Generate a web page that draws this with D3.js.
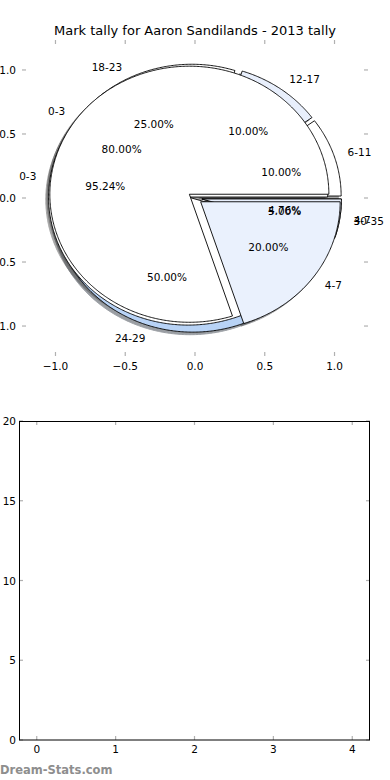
<!DOCTYPE html>
<html><head><meta charset="utf-8">
<script src="https://cdn.jsdelivr.net/npm/d3@7"></script>
<style>body{margin:0;background:#fff}svg{display:block;font-family:"DejaVu Sans",sans-serif}</style>
</head><body><svg id="c" width="390" height="780"></svg>
<script>
const chartTitle = "Mark tally for Aaron Sandilands - 2013 tally";
// Pie A (drawn first, bottom)
const pieALabels = ["6-11", "12-17", "18-23", "24-29", "30-35"];
const pieAValues = [2, 2, 5, 10, 1];
// Pie C (middle)
const pieCLabels = ["0-3", "4-7"];
const pieCValues = [20, 1];
// Pie B (top)
const pieBLabels = ["0-3", "4-7"];
const pieBValues = [16, 4];
const pieTicks = [-1.0, -0.5, 0.0, 0.5, 1.0];
const barXTicks = [0, 1, 2, 3, 4];
const barYTicks = [0, 5, 10, 15, 20];
const watermark = "Dream-Stats.com";

const pieAColors = ["#ffffff", "#e8effc", "#ffffff", "#b8d3f6", "#ffffff"];
const pieCColors = ["#ffffff", "#e8effc"];
const pieBColors = ["#ffffff", "#eaf1fd"];

const svg = d3.select("#c");
const FS = 10.5;

// ---------- top pie axes ----------
const x = d3.scaleLinear().domain([-1.24, 1.24]).range([22, 368]);
const y = d3.scaleLinear().domain([-1.234, 1.234]).range([356, 40]);

svg.append("text").attr("x", 195).attr("y", 30).attr("text-anchor", "middle")
  .attr("dominant-baseline", "central").attr("font-size", 13).text(chartTitle);

const line = d3.line().x(d => x(d[0])).y(d => y(d[1])).curve(d3.curveLinearClosed);
const pieGen = d3.pie().sort(null).startAngle(0).endAngle(2 * Math.PI);
const EXPLODE = 0.05;

function wedges(values, colors, labels) {
  const total = d3.sum(values);
  return pieGen(values).map((a, i) => {
    const t1 = a.startAngle, t2 = a.endAngle, m = (t1 + t2) / 2;
    const cx = EXPLODE * Math.cos(m), cy = EXPLODE * Math.sin(m);
    const n = Math.max(2, Math.ceil((t2 - t1) / 0.01));
    const pts = [[cx, cy]];
    for (let k = 0; k <= n; k++) {
      const t = t1 + (t2 - t1) * k / n;
      pts.push([cx + Math.cos(t), cy + Math.sin(t)]);
    }
    return {pts, cx, cy, m, color: colors[i], label: labels[i],
      pct: (values[i] / total * 100).toFixed(2) + "%"};
  });
}
const pies = [
  wedges(pieAValues, pieAColors, pieALabels),
  wedges(pieCValues, pieCColors, pieCLabels),
  wedges(pieBValues, pieBColors, pieBLabels)
];

// shadows (all below wedges)
const gSh = svg.append("g");
pies.forEach(p => p.forEach(w => {
  const c = d3.color(w.color);
  const sc = d3.rgb(c.r * 0.3, c.g * 0.3, c.b * 0.3);
  gSh.append("path").attr("d", line(w.pts.map(q => [q[0] - 0.02, q[1] - 0.02])))
    .attr("fill", sc).attr("stroke", sc).attr("stroke-width", 1).attr("opacity", 0.5);
}));
// wedges
const gW = svg.append("g");
pies.forEach(p => p.forEach(w => {
  gW.append("path").attr("d", line(w.pts)).attr("fill", w.color)
    .attr("stroke", "#000").attr("stroke-width", 0.9).attr("stroke-linejoin", "round");
}));
// texts
const gT = svg.append("g").attr("font-size", FS).attr("fill", "#000");
pies.forEach(p => p.forEach(w => {
  const lx = w.cx + 1.1 * Math.cos(w.m), ly = w.cy + 1.1 * Math.sin(w.m);
  gT.append("text").attr("x", x(lx)).attr("y", y(ly))
    .attr("text-anchor", lx > 0 ? "start" : "end").attr("dominant-baseline", "central").text(w.label);
  const px = w.cx + 0.6 * Math.cos(w.m), py = w.cy + 0.6 * Math.sin(w.m);
  gT.append("text").attr("x", x(px)).attr("y", y(py))
    .attr("text-anchor", "middle").attr("dominant-baseline", "central").text(w.pct);
}));

// pie ticks (no frame)
const fmt = d3.format(".1f");
const gTk = svg.append("g").attr("stroke", "#b0b0b0").attr("stroke-width", 1.2);
pieTicks.forEach(t => {
  gTk.append("line").attr("x1", x(t)).attr("x2", x(t)).attr("y1", 40).attr("y2", 44);
  gTk.append("line").attr("x1", x(t)).attr("x2", x(t)).attr("y1", 356).attr("y2", 352);
  gTk.append("line").attr("y1", y(t)).attr("y2", y(t)).attr("x1", 22).attr("x2", 26);
  gTk.append("line").attr("y1", y(t)).attr("y2", y(t)).attr("x1", 368).attr("x2", 364);
  svg.append("text").attr("x", x(t)).attr("y", 366).attr("text-anchor", "middle")
    .attr("dominant-baseline", "central").attr("font-size", FS).text(fmt(t));
  svg.append("text").attr("x", 16).attr("y", y(t)).attr("text-anchor", "end")
    .attr("dominant-baseline", "central").attr("font-size", FS).text(fmt(t));
});

// ---------- bottom empty axes ----------
const bx = d3.scaleLinear().domain([-0.225, 4.225]).range([19, 370]);
const by = d3.scaleLinear().domain([0, 20]).range([740, 421]);
const gB = svg.append("g");
const gBt = gB.append("g").attr("stroke", "#b0b0b0").attr("stroke-width", 1.2);
barXTicks.forEach(t => {
  gBt.append("line").attr("x1", bx(t)).attr("x2", bx(t)).attr("y1", 421).attr("y2", 425);
  gBt.append("line").attr("x1", bx(t)).attr("x2", bx(t)).attr("y1", 740).attr("y2", 736);
  gB.append("text").attr("x", bx(t)).attr("y", 749).attr("text-anchor", "middle")
    .attr("dominant-baseline", "central").attr("font-size", FS).text(t);
});
barYTicks.forEach(t => {
  gBt.append("line").attr("y1", by(t)).attr("y2", by(t)).attr("x1", 19).attr("x2", 23);
  gBt.append("line").attr("y1", by(t)).attr("y2", by(t)).attr("x1", 370).attr("x2", 366);
  gB.append("text").attr("x", 16).attr("y", by(t)).attr("text-anchor", "end")
    .attr("dominant-baseline", "central").attr("font-size", FS).text(t);
});
gB.append("rect").attr("x", 19.5).attr("y", 421.5).attr("width", 350).attr("height", 318.5)
  .attr("fill", "none").attr("stroke", "#000").attr("stroke-width", 1);

svg.append("text").attr("x", 0).attr("y", 770).attr("dominant-baseline", "central")
  .attr("font-size", 11.5).attr("font-weight", 600).attr("fill", "#8e8e8e").text(watermark);
</script></body></html>
